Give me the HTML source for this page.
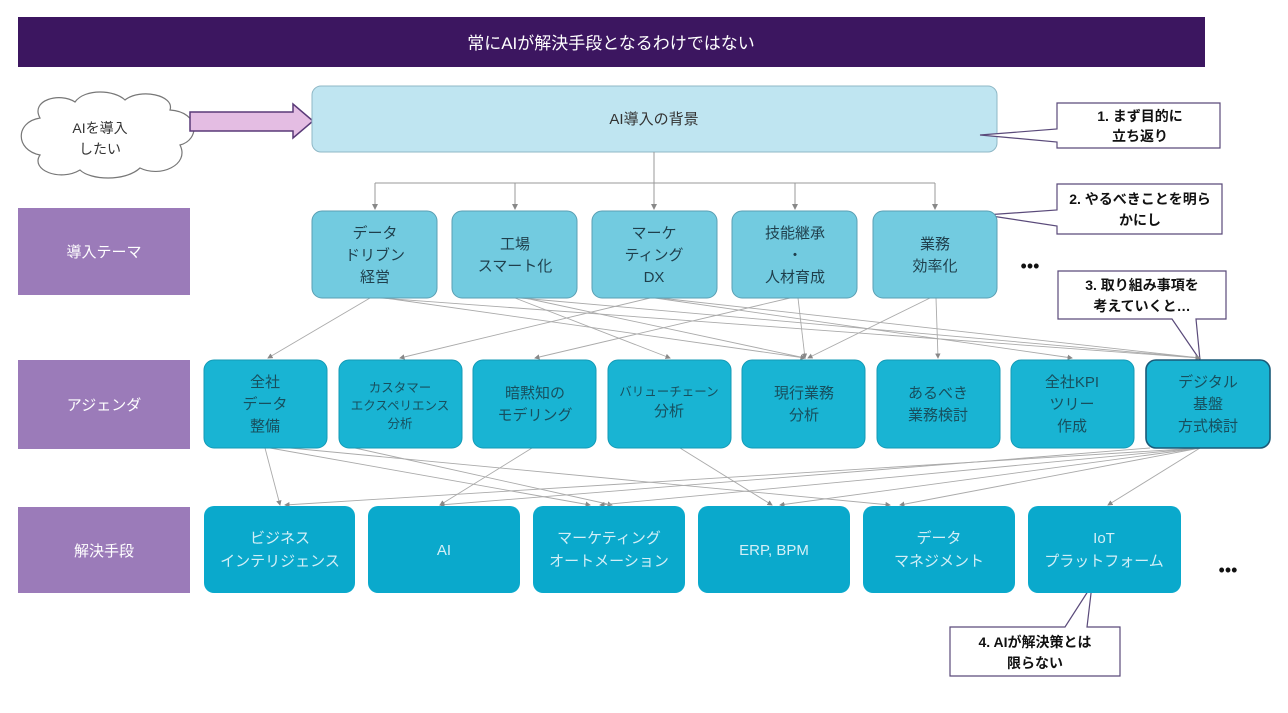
<!DOCTYPE html>
<html><head><meta charset="utf-8"><style>
html,body{margin:0;padding:0;background:#fff;}
svg{display:block;}
text{font-family:"Liberation Sans","Noto Sans CJK JP",sans-serif;}
</style></head><body>
<svg width="1288" height="713" viewBox="0 0 1288 713" xmlns="http://www.w3.org/2000/svg">
<defs><marker id="a" markerWidth="6" markerHeight="6" refX="5" refY="3" orient="auto"><path d="M0,0 L6,3 L0,6z" fill="#888"/></marker></defs>
<rect x="18" y="17" width="1187" height="50" fill="#3c1660"/>
<text x="611" y="49" font-size="17" fill="#fff" text-anchor="middle">常にAIが解決手段となるわけではない</text>

<!-- cloud -->
<path d="M40,118 C30,100 60,92 75,102 C85,88 115,90 125,100 C140,88 175,95 170,110 C200,112 200,140 180,145 C190,165 160,178 140,168 C125,182 90,180 80,170 C60,182 30,170 40,155 C15,150 15,122 40,118z" fill="#fff" stroke="#777" stroke-width="1.2"/>
<text x="100" y="133" font-size="14" fill="#333" text-anchor="middle">AIを導入</text>
<text x="100" y="154" font-size="14" fill="#333" text-anchor="middle">したい</text>
<!-- arrow -->
<path d="M190,112 L293,112 L293,104 L313,121 L293,138 L293,131 L190,131z" fill="#e4bde3" stroke="#5a3a78" stroke-width="1.5"/>

<rect x="312" y="86" width="685" height="66" rx="9" fill="#bfe5f1" stroke="#8fb8c6"/>
<text x="654" y="124" font-size="15" fill="#333" text-anchor="middle">AI導入の背景</text>

<!-- callouts -->
<g stroke="#5a4a7a" stroke-width="1.2" fill="#fff">
<path d="M1057,103 L1220,103 L1220,148 L1057,148 L1057,142 L980,135 L1057,129z"/>
<path d="M1057,184 L1222,184 L1222,234 L1057,234 L1057,226 L985,215 L1057,210z"/>
<path d="M1058,271 L1226,271 L1226,319 L1196,319 L1200,360 L1172,319 L1058,319z"/>
<path d="M950,627 L1065,627 L1092,585 L1087,627 L1120,627 L1120,676 L950,676z"/>
</g>
<g font-size="14" fill="#111" text-anchor="middle" font-weight="bold">
<text x="1140" y="121">1. まず目的に</text><text x="1140" y="141">立ち返り</text>
<text x="1140" y="204">2. やるべきことを明ら</text><text x="1140" y="225">かにし</text>
<text x="1142" y="290">3. 取り組み事項を</text><text x="1142" y="311">考えていくと…</text>
<text x="1035" y="647">4. AIが解決策とは</text><text x="1035" y="668">限らない</text>
</g>

<!-- left labels -->
<g fill="#9b7bb9">
<rect x="18" y="208" width="172" height="87"/>
<rect x="18" y="360" width="172" height="89"/>
<rect x="18" y="507" width="172" height="86"/>
</g>
<g font-size="15" fill="#fff" text-anchor="middle">
<text x="104" y="257">導入テーマ</text>
<text x="104" y="410">アジェンダ</text>
<text x="104" y="556">解決手段</text>
</g>

<!-- connectors top -->
<g stroke="#999" stroke-width="1" fill="none">
<path d="M654,152 V183 M375,183 H935"/>
<path d="M375,183 V209" marker-end="url(#a)"/>
<path d="M515,183 V209" marker-end="url(#a)"/>
<path d="M654,183 V209" marker-end="url(#a)"/>
<path d="M795,183 V209" marker-end="url(#a)"/>
<path d="M935,183 V209" marker-end="url(#a)"/>
</g>
<!-- theme->agenda lines -->
<g stroke="#aaa" stroke-width="0.9" fill="none" marker-end="url(#a)">
<path d="M370,298 L268,358"/><path d="M380,298 L1200,358"/><path d="M385,298 L805,358"/>
<path d="M515,298 L670,358"/><path d="M520,298 L1200,358"/><path d="M525,298 L805,358"/>
<path d="M650,298 L400,358"/><path d="M655,298 L1072,358"/><path d="M660,298 L1200,358"/>
<path d="M790,298 L535,358"/><path d="M798,298 L805,358"/>
<path d="M930,298 L808,358"/><path d="M936,298 L938,358"/>
</g>
<!-- agenda->solution lines -->
<g stroke="#aaa" stroke-width="0.9" fill="none" marker-end="url(#a)">
<path d="M265,448 L280,505"/><path d="M270,448 L590,505"/><path d="M290,448 L890,505"/>
<path d="M355,448 L612,505"/><path d="M532,448 L440,505"/><path d="M680,448 L772,505"/>
<path d="M1200,448 L285,505"/><path d="M1200,448 L600,505"/><path d="M1200,448 L780,505"/>
<path d="M1200,448 L900,505"/><path d="M1200,448 L1108,505"/><path d="M1150,448 L440,505"/>
</g>

<!-- theme boxes -->
<g fill="#72cbe0" stroke="#5a9fb3" stroke-width="1">
<rect x="312" y="211" width="125" height="87" rx="10"/>
<rect x="452" y="211" width="125" height="87" rx="10"/>
<rect x="592" y="211" width="125" height="87" rx="10"/>
<rect x="732" y="211" width="125" height="87" rx="10"/>
<rect x="873" y="211" width="124" height="87" rx="10"/>
</g>
<g font-size="15" fill="#1f3f4c" text-anchor="middle">
<text x="375" y="238">データ</text><text x="375" y="260">ドリブン</text><text x="375" y="282">経営</text>
<text x="515" y="249">工場</text><text x="515" y="271">スマート化</text>
<text x="654" y="238">マーケ</text><text x="654" y="260">ティング</text><text x="654" y="282">DX</text>
<text x="795" y="238">技能継承</text><text x="795" y="260">・</text><text x="795" y="282">人材育成</text>
<text x="935" y="249">業務</text><text x="935" y="271">効率化</text>
</g>
<text x="1030" y="272" font-size="18" fill="#111" text-anchor="middle">•••</text>

<!-- agenda -->
<g fill="#19b4d3" stroke="#139ab6" stroke-width="1">
<rect x="204" y="360" width="123" height="88" rx="10"/>
<rect x="339" y="360" width="123" height="88" rx="10"/>
<rect x="473" y="360" width="123" height="88" rx="10"/>
<rect x="608" y="360" width="123" height="88" rx="10"/>
<rect x="742" y="360" width="123" height="88" rx="10"/>
<rect x="877" y="360" width="123" height="88" rx="10"/>
<rect x="1011" y="360" width="123" height="88" rx="10"/>
<rect x="1146" y="360" width="124" height="88" rx="10" stroke="#1a5a78" stroke-width="1.6"/>
</g>
<g font-size="15" fill="#174f5e" text-anchor="middle">
<text x="265" y="387">全社</text><text x="265" y="409">データ</text><text x="265" y="431">整備</text>
<text x="400" y="392" font-size="12.5">カスタマー</text><text x="400" y="410" font-size="12.5">エクスペリエンス</text><text x="400" y="428" font-size="12.5">分析</text>
<text x="535" y="398">暗黙知の</text><text x="535" y="420">モデリング</text>
<text x="669" y="396" font-size="12.5">バリューチェーン</text><text x="669" y="416">分析</text>
<text x="804" y="398">現行業務</text><text x="804" y="420">分析</text>
<text x="938" y="398">あるべき</text><text x="938" y="420">業務検討</text>
<text x="1072" y="387">全社KPI</text><text x="1072" y="409">ツリー</text><text x="1072" y="431">作成</text>
<text x="1208" y="387">デジタル</text><text x="1208" y="409">基盤</text><text x="1208" y="431">方式検討</text>
</g>

<!-- solutions -->
<g fill="#0aa9cc">
<rect x="204" y="506" width="151" height="87" rx="10"/>
<rect x="368" y="506" width="152" height="87" rx="10"/>
<rect x="533" y="506" width="152" height="87" rx="10"/>
<rect x="698" y="506" width="152" height="87" rx="10"/>
<rect x="863" y="506" width="152" height="87" rx="10"/>
<rect x="1028" y="506" width="153" height="87" rx="10"/>
</g>
<g font-size="15" fill="#d3eff7" text-anchor="middle">
<text x="280" y="543">ビジネス</text><text x="280" y="566">インテリジェンス</text>
<text x="444" y="555">AI</text>
<text x="609" y="543">マーケティング</text><text x="609" y="566">オートメーション</text>
<text x="774" y="555">ERP, BPM</text>
<text x="939" y="543">データ</text><text x="939" y="566">マネジメント</text>
<text x="1104" y="543">IoT</text><text x="1104" y="566">プラットフォーム</text>
</g>
<text x="1228" y="576" font-size="18" fill="#111" text-anchor="middle">•••</text>
</svg>
</body></html>
